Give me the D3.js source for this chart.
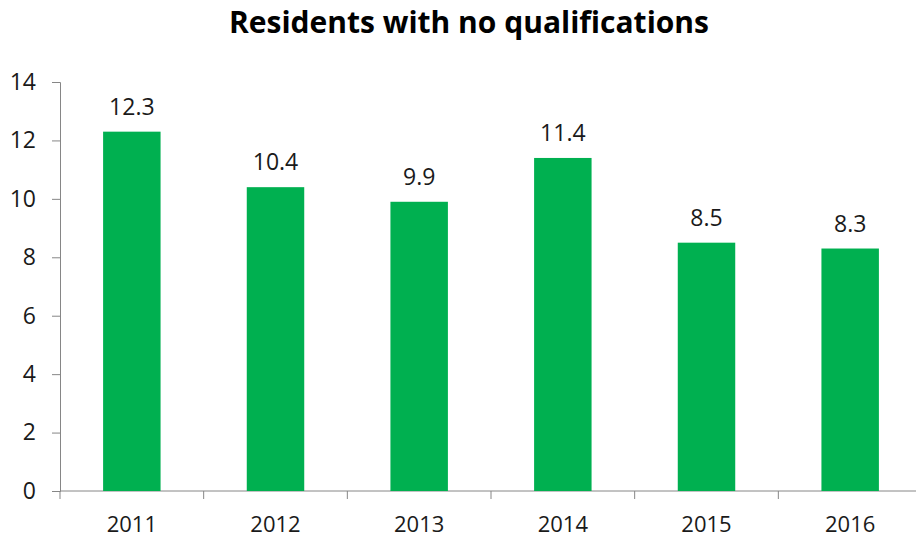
<!DOCTYPE html>
<html>
<head>
<meta charset="utf-8">
<script src="https://cdn.jsdelivr.net/npm/d3@7"></script>
<style>
  body { margin: 0; background: #fff; }
  svg { display: block; font-family: "Open Sans", sans-serif; }
</style>
</head>
<body>
<div id="chart"></div>
<script>
// chart data
var years = ["2011", "2012", "2013", "2014", "2015", "2016"];
var values = [12.3, 10.4, 9.9, 11.4, 8.5, 8.3];
var yTicks = [0, 2, 4, 6, 8, 10, 12, 14];
var title = "Residents with no qualifications";

var width = 916, height = 540;
var margin = { top: 82, left: 60, bottom: 49, right: -6 };

var svg = d3.select("#chart").append("svg")
  .attr("width", width)
  .attr("height", height);

var x = d3.scaleBand()
  .domain(years)
  .range([margin.left, width - margin.right])
  .paddingInner(0.6)
  .paddingOuter(0.3);

var y = d3.scaleLinear()
  .domain([0, 14])
  .range([height - margin.bottom, margin.top]);

var axisColor = "#868686";
var textColor = "#1a1a1a";

// title
svg.append("text")
  .attr("x", 469)
  .attr("y", 33)
  .attr("text-anchor", "middle")
  .attr("font-size", 30)
  .attr("font-weight", "bold")
  .attr("fill", "#000")
  .text(title);

// y axis
var yAxis = svg.append("g")
  .attr("transform", "translate(" + margin.left + ",0)")
  .call(d3.axisLeft(y).tickValues(yTicks).tickSize(8).tickPadding(16).tickFormat(d3.format("d")));
yAxis.selectAll("line, path").attr("stroke", axisColor);
yAxis.selectAll("text").attr("font-size", 23).attr("fill", textColor).attr("font-family", "Open Sans");

// x axis line
var x0 = y(0);
svg.append("line")
  .attr("x1", margin.left).attr("x2", width)
  .attr("y1", x0).attr("y2", x0)
  .attr("stroke", axisColor);

// x ticks between categories
var step = x.step();
var boundaries = d3.range(years.length + 1).map(function (i) { return margin.left + i * step; });
svg.selectAll(".xtick")
  .data(boundaries)
  .enter().append("line")
  .attr("class", "xtick")
  .attr("x1", function (d) { return d; })
  .attr("x2", function (d) { return d; })
  .attr("y1", x0)
  .attr("y2", x0 + 8)
  .attr("stroke", axisColor);

// x labels
svg.selectAll(".xlabel")
  .data(years)
  .enter().append("text")
  .attr("class", "xlabel")
  .attr("x", function (d) { return x(d) + x.bandwidth() / 2; })
  .attr("y", x0 + 41)
  .attr("text-anchor", "middle")
  .attr("font-size", 22)
  .attr("fill", textColor)
  .text(function (d) { return d; });

// bars
svg.selectAll(".bar")
  .data(values)
  .enter().append("rect")
  .attr("class", "bar")
  .attr("x", function (d, i) { return x(years[i]); })
  .attr("width", x.bandwidth())
  .attr("y", function (d) { return y(d); })
  .attr("height", function (d) { return y(0) - y(d); })
  .attr("fill", "#00B050");

// value labels
svg.selectAll(".vlabel")
  .data(values)
  .enter().append("text")
  .attr("class", "vlabel")
  .attr("x", function (d, i) { return x(years[i]) + x.bandwidth() / 2; })
  .attr("y", function (d) { return y(d) - 17; })
  .attr("text-anchor", "middle")
  .attr("font-size", 23)
  .attr("fill", textColor)
  .text(function (d) { return d3.format(".1f")(d); });
</script>
</body>
</html>
